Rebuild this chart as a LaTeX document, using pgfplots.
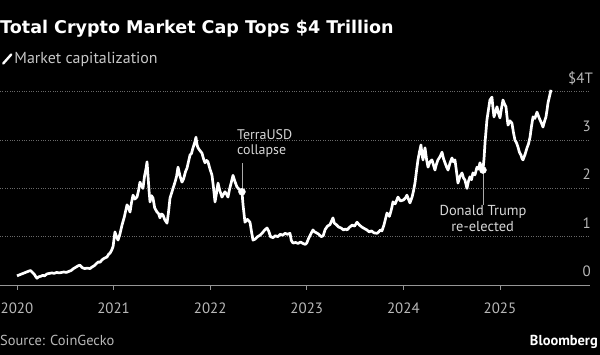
\documentclass[border=0pt]{standalone}
\usepackage{pgfplots}
\pgfplotsset{compat=1.18}
\usepackage{fontspec}
\setmainfont{PT Sans}
\newfontfamily\titlefont{DejaVu Sans}
\definecolor{tickgray}{RGB}{185,185,185}
\definecolor{gridgray}{RGB}{105,105,105}
\definecolor{axgray}{RGB}{150,150,150}
\definecolor{legendgray}{RGB}{200,200,200}
\definecolor{anngray}{RGB}{215,215,215}
\definecolor{linegray}{RGB}{170,170,170}
\tikzset{ylab/.style={anchor=base east, inner sep=0pt, text=tickgray, font=\fontsize{15}{17}\selectfont}}

\pgfplotstableread{
year value
2020.000 0.19
2020.025 0.21
2020.050 0.23
2020.075 0.25
2020.100 0.27
2020.125 0.29
2020.140 0.30
2020.160 0.26
2020.180 0.22
2020.195 0.17
2020.207 0.14
2020.225 0.17
2020.245 0.18
2020.265 0.20
2020.285 0.19
2020.310 0.23
2020.335 0.24
2020.360 0.25
2020.385 0.24
2020.410 0.26
2020.435 0.25
2020.460 0.26
2020.485 0.27
2020.510 0.26
2020.535 0.28
2020.560 0.30
2020.585 0.34
2020.610 0.37
2020.635 0.40
2020.652 0.41
2020.675 0.36
2020.700 0.34
2020.725 0.35
2020.756 0.34
2020.775 0.37
2020.800 0.40
2020.825 0.45
2020.845 0.48
2020.860 0.47
2020.880 0.52
2020.900 0.55
2020.932 0.58
2020.950 0.64
2020.963 0.66
2020.980 0.72
2020.995 0.80
2021.014 1.10
2021.030 1.00
2021.046 0.93
2021.065 1.05
2021.087 1.24
2021.110 1.40
2021.139 1.66
2021.155 1.60
2021.170 1.51
2021.185 1.70
2021.201 1.86
2021.220 1.78
2021.242 1.82
2021.258 1.95
2021.273 2.13
2021.290 2.05
2021.304 2.00
2021.320 2.25
2021.335 2.40
2021.346 2.55
2021.356 2.27
2021.367 1.95
2021.377 1.72
2021.392 1.85
2021.408 1.80
2021.425 1.60
2021.449 1.51
2021.465 1.48
2021.480 1.39
2021.495 1.47
2021.511 1.45
2021.530 1.35
2021.553 1.28
2021.568 1.50
2021.584 1.80
2021.600 1.90
2021.618 2.02
2021.636 2.13
2021.652 2.25
2021.667 2.44
2021.688 2.25
2021.708 2.13
2021.725 2.20
2021.745 2.35
2021.760 2.42
2021.775 2.55
2021.791 2.69
2021.806 2.72
2021.822 2.84
2021.840 2.95
2021.853 3.06
2021.864 2.90
2021.874 2.84
2021.895 2.78
2021.915 2.73
2021.930 2.62
2021.946 2.53
2021.962 2.58
2021.977 2.55
2021.998 2.40
2022.019 2.27
2022.035 2.00
2022.050 1.72
2022.065 1.90
2022.081 2.11
2022.100 1.95
2022.122 1.82
2022.138 1.88
2022.153 1.93
2022.170 1.88
2022.184 1.82
2022.200 1.98
2022.218 2.12
2022.236 2.27
2022.255 2.15
2022.277 2.03
2022.300 1.98
2022.315 1.96
2022.329 1.93
2022.340 1.66
2022.360 1.30
2022.385 1.36
2022.412 1.30
2022.428 1.10
2022.443 0.93
2022.465 0.95
2022.490 1.00
2022.516 1.03
2022.540 1.08
2022.565 1.14
2022.588 1.18
2022.605 1.12
2022.625 1.00
2022.650 0.98
2022.675 1.02
2022.700 1.00
2022.725 1.05
2022.750 1.03
2022.775 1.07
2022.800 1.05
2022.826 1.07
2022.840 0.92
2022.857 0.87
2022.885 0.88
2022.910 0.86
2022.935 0.89
2022.960 0.86
2022.985 0.84
2023.000 0.87
2023.020 0.97
2023.040 1.05
2023.064 1.14
2023.080 1.10
2023.100 1.08
2023.125 1.05
2023.150 1.00
2023.170 1.02
2023.190 1.15
2023.215 1.22
2023.240 1.25
2023.271 1.39
2023.285 1.28
2023.305 1.25
2023.330 1.20
2023.355 1.18
2023.380 1.14
2023.400 1.16
2023.416 1.14
2023.445 1.20
2023.470 1.24
2023.495 1.22
2023.520 1.30
2023.545 1.24
2023.570 1.20
2023.595 1.17
2023.623 1.14
2023.645 1.10
2023.670 1.12
2023.695 1.08
2023.727 1.07
2023.745 1.10
2023.762 1.14
2023.778 1.12
2023.800 1.25
2023.830 1.49
2023.855 1.42
2023.870 1.52
2023.880 1.60
2023.892 1.72
2023.915 1.68
2023.944 1.82
2023.970 1.74
2024.000 1.76
2024.020 1.80
2024.037 1.86
2024.052 1.78
2024.068 1.70
2024.090 1.82
2024.105 1.95
2024.120 2.11
2024.135 2.35
2024.151 2.59
2024.166 2.75
2024.182 2.90
2024.193 2.70
2024.203 2.59
2024.214 2.72
2024.224 2.84
2024.240 2.60
2024.255 2.44
2024.275 2.55
2024.296 2.59
2024.312 2.48
2024.327 2.38
2024.342 2.50
2024.358 2.59
2024.380 2.66
2024.400 2.75
2024.415 2.62
2024.431 2.53
2024.446 2.45
2024.462 2.38
2024.482 2.52
2024.503 2.63
2024.518 2.55
2024.534 2.59
2024.550 2.35
2024.565 2.11
2024.586 2.25
2024.607 2.32
2024.622 2.22
2024.638 2.17
2024.658 2.00
2024.674 2.15
2024.689 2.24
2024.705 2.18
2024.720 2.32
2024.741 2.28
2024.762 2.44
2024.778 2.40
2024.793 2.53
2024.808 2.42
2024.824 2.38
2024.835 2.62
2024.845 2.94
2024.855 3.18
2024.865 3.42
2024.880 3.62
2024.896 3.83
2024.917 3.89
2024.928 3.65
2024.938 3.48
2024.953 3.58
2024.969 3.69
2024.985 3.55
2025.000 3.46
2025.015 3.65
2025.031 3.83
2025.046 3.75
2025.062 3.69
2025.072 3.50
2025.083 3.31
2025.103 3.40
2025.124 3.35
2025.140 3.15
2025.155 3.00
2025.170 2.95
2025.186 2.86
2025.201 2.75
2025.217 2.69
2025.228 2.62
2025.238 2.59
2025.259 2.70
2025.280 2.84
2025.295 2.92
2025.311 3.06
2025.326 3.28
2025.342 3.48
2025.362 3.45
2025.383 3.58
2025.398 3.50
2025.414 3.42
2025.430 3.35
2025.445 3.27
2025.460 3.38
2025.476 3.48
2025.487 3.62
2025.497 3.77
2025.512 3.90
2025.528 4.04
}\mcap

\begin{document}
\begin{tikzpicture}
\fill[black] (0bp,0bp) rectangle (600bp,355bp);
\useasboundingbox (0bp,0bp) rectangle (600bp,355bp);
\node[anchor=base west, inner sep=0pt, text=white, font=\titlefont\fontsize{17.6}{19}\selectfont\bfseries] at (0bp,321bp) {Total Crypto Market Cap Tops \$4 Trillion};
\node[anchor=base west, inner sep=0pt, text=tickgray, font=\fontsize{14.5}{16}\selectfont] at (0bp,10bp) {Source: CoinGecko};
\node[anchor=base east, inner sep=0pt, text=white, font=\fontsize{14.5}{16}\selectfont\bfseries] at (598bp,10bp) {Bloomberg};
\node[ylab] at (591bp,78.5bp) {0};
\node[ylab] at (591bp,126.8bp) {1};
\node[ylab] at (591bp,175.1bp) {2};
\node[ylab] at (591bp,223.4bp) {3};
\node[ylab] at (593bp,271.7bp) {\$4T};
\begin{axis}[
  at={(0bp,70bp)}, anchor=south west,
  scale only axis, width=590bp, height=202.86bp,
  xmin=2019.824, xmax=2025.932, ymin=0, ymax=4.2,
  axis x line*=bottom, axis y line*=right,
  y axis line style={draw=none},
  x axis line style={draw=axgray, line width=0.8bp},
  xtick={2020,2021,2022,2023,2024,2025},
  xticklabels={2020,2021,2022,2023,2024,2025},
  xtick style={draw=axgray, line width=0.8bp},
  major tick length=5bp,
  xtick align=outside,
  ytick={0,1,2,3,4},
  yticklabels={},
  ytick style={draw=none},
  ymajorgrids,
  grid style={draw=gridgray, dotted, line width=0.8bp},
  xticklabel style={anchor=north, inner sep=0pt, yshift=-13bp},
  tick label style={text=tickgray, font=\fontsize{15}{17}\selectfont},
  /pgf/number format/assume math mode=true,
  clip=false,
  legend style={at={(0.0034,1.114)}, anchor=west, draw=none, fill=none, inner sep=0pt, outer sep=0pt, text=legendgray, font=\fontsize{16}{18}\selectfont},
  legend image code/.code={\draw[white, line width=2.4bp, line cap=round] (0bp,-4.5bp) -- (8bp,4.5bp);},
]
\addplot[white, line width=2.7bp, line join=round] table[x=year, y=value] {\mcap};
\addlegendentry{Market capitalization}
\draw[linegray, line width=0.9bp] (axis cs:2022.329,1.93) -- (axis cs:2022.329,2.53);
\draw[linegray, line width=0.9bp] (axis cs:2024.824,2.38) -- (axis cs:2024.824,1.66);
\addplot[forget plot, only marks, mark=*, mark size=3.5bp, mark options={fill=white, draw=white}] coordinates {(2022.329,1.93) (2024.824,2.38)};
\node[anchor=base west, inner sep=0pt, text=anngray, font=\fontsize{14}{16}\selectfont] at (axis cs:2022.277,3.02) {TerraUSD};
\node[anchor=base west, inner sep=0pt, text=anngray, font=\fontsize{14}{16}\selectfont] at (axis cs:2022.277,2.706) {collapse};
\node[anchor=base, inner sep=0pt, text=anngray, font=\fontsize{14.5}{16}\selectfont] at (axis cs:2024.824,1.429) {Donald Trump};
\node[anchor=base, inner sep=0pt, text=anngray, font=\fontsize{14.5}{16}\selectfont] at (axis cs:2024.82,1.104) {re-elected};
\end{axis}
\end{tikzpicture}
\end{document}
